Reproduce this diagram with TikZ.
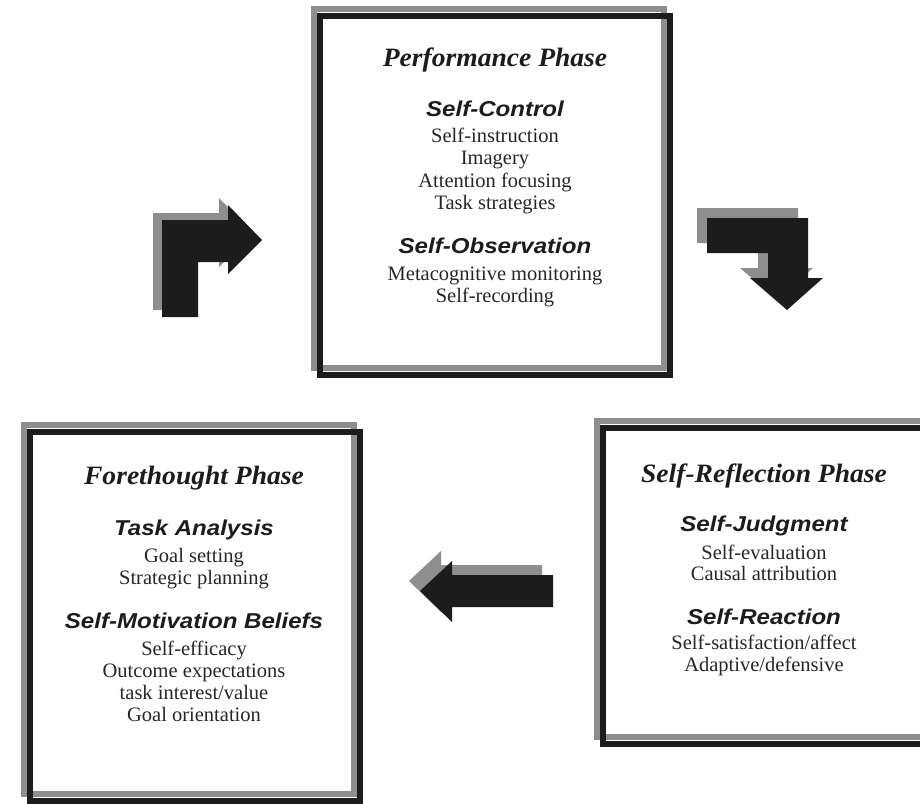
\documentclass[tikz,border=0pt]{standalone}
\usepackage{fontspec}
\setmainfont{Liberation Serif}
\newfontfamily\titlefont[FakeStretch=1.04]{Liberation Serif}
\newfontfamily\subfont[FakeStretch=1.12]{Liberation Sans}
\definecolor{inkblack}{HTML}{1C1C1C}
\definecolor{shadowgray}{HTML}{8E8E8E}
\definecolor{textgray}{HTML}{262626}
\tikzset{
  frameblack/.style={draw=inkblack, line width=6pt, inner sep=0pt, outer sep=0pt},
  frameshadow/.style={draw=shadowgray, line width=6pt, inner sep=0pt, outer sep=0pt},
  blackfill/.style={fill=inkblack},
  shadowfill/.style={fill=shadowgray},
  ptitle/.style={anchor=base, inner sep=0pt, font=\titlefont\fontsize{26.5}{30}\selectfont\bfseries\itshape, text=inkblack},
  psub/.style={anchor=base, inner sep=0pt, font=\subfont\fontsize{21.5}{26}\selectfont\bfseries\itshape, text=inkblack},
  pitem/.style={anchor=base, inner sep=0pt, font=\fontsize{20.5}{22}\selectfont, text=textgray},
}
\begin{document}
\begin{tikzpicture}[x=1pt, y=-1pt]
\useasboundingbox (0,0) rectangle (920,803);
\clip (0,0) rectangle (920,803);
\fill[white] (0,0) rectangle (920,803);

% ---------- Performance box ----------
\node[frameshadow, minimum width=350pt, minimum height=359.5pt] (perfshadow) at (488.5,188.25) {};
\node[frameblack, minimum width=350pt, minimum height=359.5pt] (perf) at (495,195.25) {};
\node[ptitle] (perftitle) at (495,66) {Performance Phase};
\node[psub] (selfcontrol) at (495,116) {Self-Control};
\node[pitem] (sc1) at (495,142) {Self-instruction};
\node[pitem] (sc2) at (495,164) {Imagery};
\node[pitem] (sc3) at (495,187) {Attention focusing};
\node[pitem] (sc4) at (495,209) {Task strategies};
\node[psub] (selfobs) at (495,253) {Self-Observation};
\node[pitem] (so1) at (495,280) {Metacognitive monitoring};
\node[pitem] (so2) at (495,302) {Self-recording};

% ---------- Forethought box ----------
\node[frameshadow, minimum width=329.5pt, minimum height=369pt] (foreshadow) at (188.75,609) {};
\node[frameblack, minimum width=329.5pt, minimum height=369pt] (fore) at (194.75,616) {};
\node[ptitle] (foretitle) at (194,484) {Forethought Phase};
\node[psub] (taskan) at (194,535) {Task Analysis};
\node[pitem] (ta1) at (194,562) {Goal setting};
\node[pitem] (ta2) at (194,584) {Strategic planning};
\node[psub] (selfmot) at (194,628) {Self-Motivation Beliefs};
\node[pitem] (sm1) at (194,655) {Self-efficacy};
\node[pitem] (sm2) at (194,677) {Outcome expectations};
\node[pitem] (sm3) at (194,699) {task interest/value};
\node[pitem] (sm4) at (194,721) {Goal orientation};

% ---------- Self-Reflection box ----------
\node[frameshadow, minimum width=330pt, minimum height=316pt] (reflshadow) at (762,578.5) {};
\node[frameblack, minimum width=330pt, minimum height=316pt] (refl) at (768,585.5) {};
\node[ptitle] (refltitle) at (764,482) {Self-Reflection Phase};
\node[psub] (selfjudg) at (764,531) {Self-Judgment};
\node[pitem] (sj1) at (764,559) {Self-evaluation};
\node[pitem] (sj2) at (764,580) {Causal attribution};
\node[psub] (selfreact) at (764,624) {Self-Reaction};
\node[pitem] (sr1) at (764,649) {Self-satisfaction/affect};
\node[pitem] (sr2) at (764,671) {Adaptive/defensive};

% ---------- Arrow: Forethought -> Performance (bent up-right) ----------
\fill[shadowfill, shift={(-9,-7)}] (162,317) -- (162,220) -- (228,220) -- (228,205) -- (262,240) -- (228,274) -- (228,262) -- (198,262) -- (198,317) -- cycle;
\fill[blackfill] (162,317) -- (162,220) -- (228,220) -- (228,205) -- (262,240) -- (228,274) -- (228,262) -- (198,262) -- (198,317) -- cycle;

% ---------- Arrow: Performance -> Self-Reflection (bent down) ----------
\fill[shadowfill, shift={(-10,-10)}] (707,218) -- (808,218) -- (808,278) -- (823,278) -- (787,310) -- (750,278) -- (768,278) -- (768,253) -- (707,253) -- cycle;
\fill[blackfill] (707,218) -- (808,218) -- (808,278) -- (823,278) -- (787,310) -- (750,278) -- (768,278) -- (768,253) -- (707,253) -- cycle;

% ---------- Arrow: Self-Reflection -> Forethought (left) ----------
\fill[shadowfill, shift={(-11,-10)}] (553,575) -- (452,575) -- (452,561) -- (420,591) -- (452,622) -- (452,607) -- (553,607) -- cycle;
\fill[blackfill] (553,575) -- (452,575) -- (452,561) -- (420,591) -- (452,622) -- (452,607) -- (553,607) -- cycle;
\end{tikzpicture}
\end{document}
